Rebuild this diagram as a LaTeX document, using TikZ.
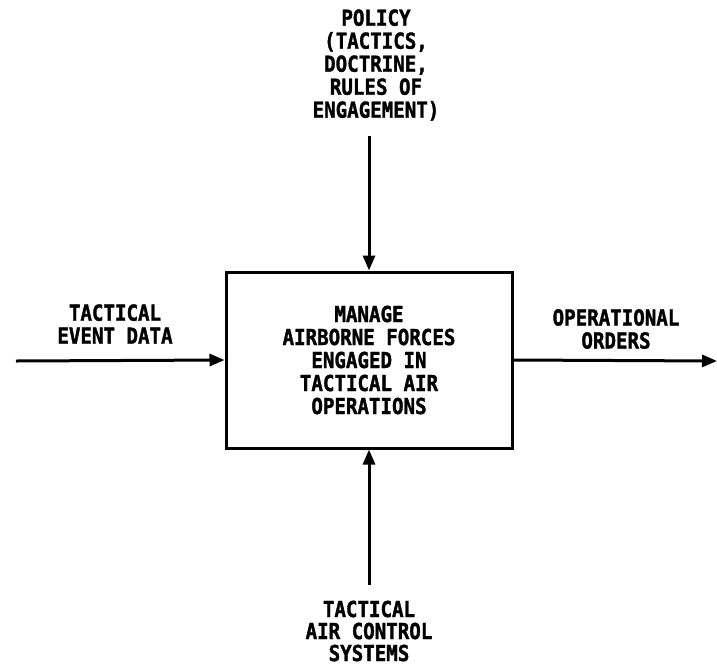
\documentclass[tikz,border=0pt]{standalone}
\usepackage{fontspec}
\newfontfamily\lblfont{DejaVu Sans Mono}[FakeStretch=0.87,FakeBold=1.5]
\usetikzlibrary{arrows.meta}
\tikzset{
  lbl/.style={inner sep=0pt, align=center, font=\lblfont\bfseries\fontsize{22}{23}\selectfont},
  procbox/.style={draw, line width=3pt, minimum width=286pt, minimum height=176pt, inner sep=0pt},
  flow/.style={line width=3pt, -{Triangle[length=15pt,width=12pt]}}
}
\begin{document}
\begin{tikzpicture}[x=1pt,y=-1pt]
\useasboundingbox (0,0) rectangle (717,670);
\node[procbox] (box) at (369,360) {};
\node[lbl] (boxtxt) at (369,360) {MANAGE\\AIRBORNE FORCES\\ENGAGED IN\\TACTICAL AIR\\OPERATIONS};
\node[lbl] (policy) at (376,65) {POLICY\\(TACTICS,\\DOCTRINE,\\RULES OF\\ENGAGEMENT)};
\node[lbl] (input) at (115,324) {TACTICAL\\EVENT DATA};
\node[lbl] (output) at (616,329) {OPERATIONAL\\ORDERS};
\node[lbl, font=\lblfont\bfseries\fontsize{22}{22}\selectfont] (mech) at (369,631) {TACTICAL\\AIR CONTROL\\SYSTEMS};
\coordinate (ptop) at (369,136);
\coordinate (pbot) at (369,585);
\coordinate (pin) at (16,361);
\coordinate (pout) at (717,361);
\draw[flow] (ptop) -- (box.north);
\draw[flow] (pbot) -- (box.south);
\draw[flow] (pin) -- (box.west);
\draw[flow] (box.east) -- (pout);
\end{tikzpicture}
\end{document}
